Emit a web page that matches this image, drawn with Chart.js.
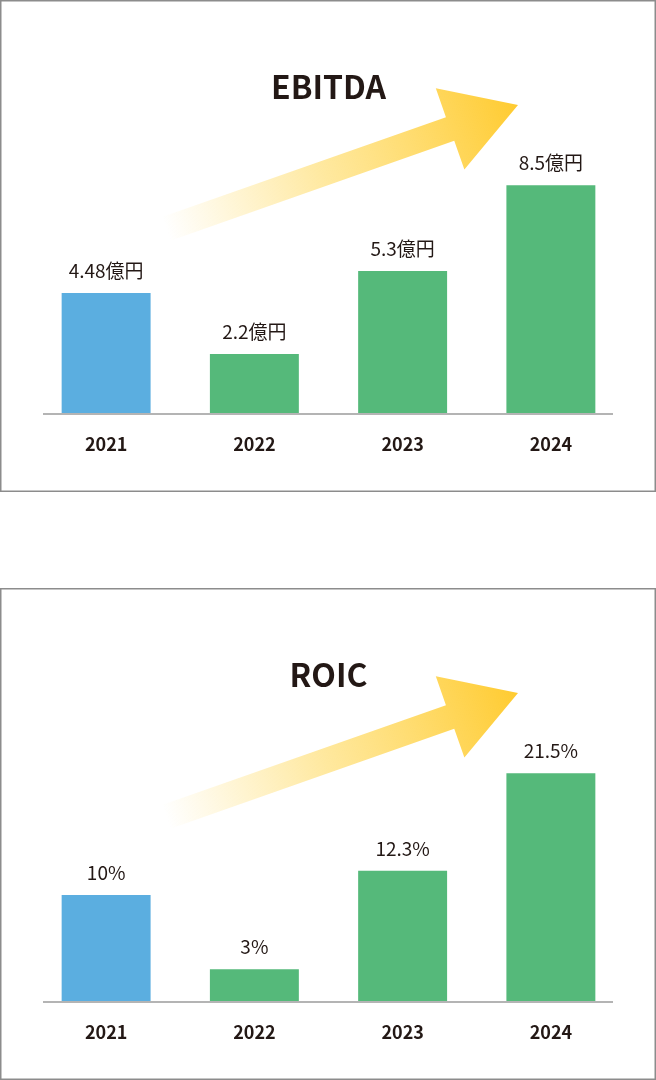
<!DOCTYPE html>
<html lang="ja">
<head>
<meta charset="utf-8">
<title>EBITDA / ROIC</title>
<script src="https://cdn.jsdelivr.net/npm/chart.js@4.4.1/dist/chart.umd.min.js"></script>
<style>
  html, body { margin: 0; padding: 0; background: #fff; }
  .panel { position: absolute; left: 0; width: 656px; height: 492px; }
  #p1 { top: 0; }
  #p2 { top: 588px; }
  canvas { display: block; }
</style>
</head>
<body>
<div class="panel" id="p1"><canvas id="ebitdaChart" width="656" height="492"></canvas></div>
<div class="panel" id="p2"><canvas id="roicChart" width="656" height="492"></canvas></div>

<script>
// datos de los graficos
const years = ['2021', '2022', '2023', '2024'];

const ebitdaValues = [4.48, 2.2, 5.3, 8.5];
const ebitdaLabels = ['4.48億円', '2.2億円', '5.3億円', '8.5億円'];

const roicValues = [10, 3, 12.3, 21.5];
const roicLabels = ['10%', '3%', '12.3%', '21.5%'];

// colores
const blueColor = '#5BAEE0';
const greenColor = '#55B97A';
const barColors = [blueColor, greenColor, greenColor, greenColor];
const textColor = '#231815';
const fontFamily = '"Noto Sans CJK JP", "Noto Sans", sans-serif';

// marco + flecha amarilla (decoracion, va detras de las barras)
const decorPlugin = {
    id: 'decor',
    beforeDraw(chart) {
        const ctx = chart.ctx;
        const w = chart.width, h = chart.height;
        ctx.save();

        // marco gris
        ctx.strokeStyle = '#8C8C8C';
        ctx.lineWidth = 1.5;
        ctx.strokeRect(0.75, 0.75, w - 1.5, h - 1.5);

        // flecha
        const ang = 19.4 * Math.PI / 180;
        const dx = Math.cos(ang), dy = -Math.sin(ang);
        const nx = Math.sin(ang), ny = Math.cos(ang);
        const tip = { x: 518, y: 105 };
        const base = { x: tip.x - 72 * dx, y: tip.y - 72 * dy };
        const tail = { x: base.x - 301 * dx, y: base.y - 301 * dy };
        const headHalf = 43, shaftHalf = 12.5;

        const grad = ctx.createLinearGradient(tail.x, tail.y, tip.x, tip.y);
        grad.addColorStop(0, 'rgba(255, 214, 80, 0)');
        grad.addColorStop(0.45, 'rgba(255, 214, 80, 0.55)');
        grad.addColorStop(1, 'rgba(255, 203, 48, 1)');

        ctx.fillStyle = grad;
        ctx.beginPath();
        ctx.moveTo(tail.x - shaftHalf * nx, tail.y - shaftHalf * ny);
        ctx.lineTo(base.x - shaftHalf * nx, base.y - shaftHalf * ny);
        ctx.lineTo(base.x - headHalf * nx, base.y - headHalf * ny);
        ctx.lineTo(tip.x, tip.y);
        ctx.lineTo(base.x + headHalf * nx, base.y + headHalf * ny);
        ctx.lineTo(base.x + shaftHalf * nx, base.y + shaftHalf * ny);
        ctx.lineTo(tail.x + shaftHalf * nx, tail.y + shaftHalf * ny);
        ctx.closePath();
        ctx.fill();

        ctx.restore();
    }
};

// linea base gris y etiquetas de valor sobre cada barra
const labelsPlugin = {
    id: 'valueLabels',
    afterDatasetsDraw(chart, args, opts) {
        const ctx = chart.ctx;
        const area = chart.chartArea;
        const y0 = chart.scales.y.getPixelForValue(0);

        ctx.save();
        ctx.strokeStyle = '#B4B4B4';
        ctx.lineWidth = 2;
        ctx.beginPath();
        ctx.moveTo(area.left + 11, y0 + 1);
        ctx.lineTo(area.right - 12, y0 + 1);
        ctx.stroke();

        ctx.fillStyle = textColor;
        ctx.font = '19px ' + fontFamily;
        ctx.textAlign = 'center';
        ctx.textBaseline = 'alphabetic';
        chart.getDatasetMeta(0).data.forEach((bar, i) => {
            ctx.fillText(opts.texts[i], bar.x, bar.y - 15);
        });
        ctx.restore();
    }
};

function makeChart(id, title, values, texts, yMax) {
    const ctx = document.getElementById(id);
    return new Chart(ctx, {
        type: 'bar',
        data: {
            labels: years,
            datasets: [{
                data: values,
                backgroundColor: barColors,
                borderWidth: 0,
                barPercentage: 0.6,
                categoryPercentage: 1
            }]
        },
        options: {
            responsive: false,
            animation: false,
            layout: { padding: { left: 32, right: 31, top: 0, bottom: 17.4 } },
            scales: {
                x: {
                    grid: { display: false, drawTicks: false },
                    border: { display: false },
                    ticks: {
                        padding: 20,
                        color: textColor,
                        font: { family: fontFamily, size: 18, weight: 'bold' }
                    }
                },
                y: { display: false, min: 0, max: yMax }
            },
            plugins: {
                legend: { display: false },
                tooltip: { enabled: false },
                title: {
                    display: true,
                    text: title,
                    color: textColor,
                    font: { family: fontFamily, size: 32, weight: 'bold' },
                    padding: { top: 67.5, bottom: 39.1 }
                },
                valueLabels: { texts: texts }
            }
        },
        plugins: [decorPlugin, labelsPlugin]
    });
}

makeChart('ebitdaChart', 'EBITDA', ebitdaValues, ebitdaLabels, 10);
makeChart('roicChart', 'ROIC', roicValues, roicLabels, 25.3);
</script>
</body>
</html>
